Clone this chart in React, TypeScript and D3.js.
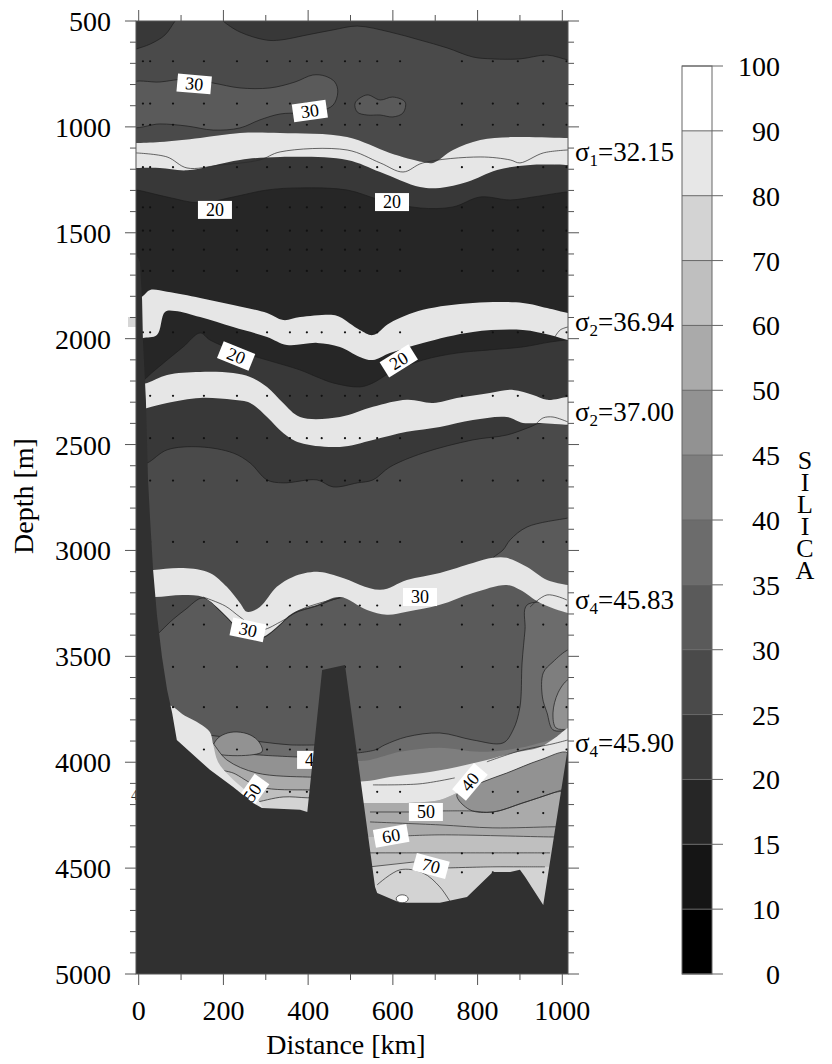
import React from 'react';
import * as d3 from 'd3';

type P = [number, number];

// ---------- axes / legend values ----------
const distanceTicks = [0, 200, 400, 600, 800, 1000];
const distanceMinor = [100, 300, 500, 700, 900];
const depthTicks = [500, 1000, 1500, 2000, 2500, 3000, 3500, 4000, 4500, 5000];
const depthMinor = d3.range(600, 5000, 100).filter((v) => v % 500 !== 0);
const silicaLevels = [0, 10, 15, 20, 25, 30, 35, 40, 45, 50, 60, 70, 80, 90, 100];
const silicaGreys = ['#000000', '#151515', '#262626', '#383838', '#4a4a4a', '#5a5a5a', '#6c6c6c', '#7e7e7e', '#929292', '#aaaaaa', '#bfbfbf', '#d3d3d3', '#e7e7e7', '#ffffff'];
const bandGrey = '#e6e6e6';
const bottomGrey = '#303030';
const legendTitle = 'SILICA';

// ---------- stations (km) and bottle depths (m) ----------
const stations = [10, 27, 81, 154, 232, 303, 357, 397, 432, 487, 522, 563, 617, 763, 836, 895, 955, 1010];
const bottleDepths = [690, 890, 990, 1190, 1380, 1490, 1580, 1680, 1970, 2270, 2470, 2670, 2960, 3260, 3350, 3550, 3740, 3940, 4140, 4240, 4430, 4520];

// ---------- contour boundaries [km, m] ----------
const topLeftDark: P[] = [[-20, 640], [-6, 632], [27, 609], [62, 566], [86, 500], [95, 480]];
const topRightDark: P[] = [[190, 480], [199, 500], [239, 552], [301, 590], [334, 590], [397, 566], [459, 542], [516, 524], [593, 552], [664, 590], [728, 627], [789, 670], [836, 679], [900, 679], [964, 661], [1013, 684], [1030, 690]];
const patch30: P[] = [[-20, 797], [50, 788], [114, 774], [176, 793], [239, 816], [310, 816], [369, 788], [411, 755], [440, 760], [463, 788], [470, 835], [459, 897], [428, 925], [381, 934], [334, 939], [286, 967], [239, 1005], [176, 1015], [114, 996], [50, 986], [-20, 996]];
const island30: P[] = [[511, 887], [539, 849], [570, 873], [600, 859], [629, 883], [624, 934], [600, 953], [570, 944], [539, 944], [516, 930]];
const c25Lower: P[] = [[-20, 2600], [-6, 2596], [20, 2587], [67, 2525], [145, 2511], [223, 2540], [263, 2587], [303, 2667], [341, 2681], [421, 2667], [459, 2700], [516, 2681], [553, 2667], [593, 2606], [671, 2540], [789, 2478], [869, 2455], [924, 2417], [948, 2398], [1013, 2407], [1030, 2407]];
const c20Top: P[] = [[-20, 1298], [-6, 1298], [67, 1331], [145, 1359], [223, 1331], [303, 1298], [381, 1288], [492, 1298], [570, 1345], [664, 1383], [742, 1378], [806, 1331], [877, 1345], [931, 1331], [1013, 1307], [1030, 1307]];
const c20Bottom: P[] = [[-20, 2240], [-6, 2233], [20, 2181], [67, 2101], [105, 2039], [145, 1973], [168, 2006], [223, 2053], [303, 2101], [381, 2148], [421, 2181], [459, 2209], [522, 2228], [553, 2209], [593, 2162], [671, 2101], [751, 2068], [829, 2053], [907, 2039], [971, 2016], [1013, 2006], [1030, 2006]];
const c30Deep: P[] = [[1030, 2840], [1013, 2847], [917, 2889], [877, 2950], [860, 2998], [836, 3035], [806, 3101], [711, 3196], [633, 3215], [553, 3220], [475, 3224], [421, 3262], [364, 3300], [326, 3366], [293, 3413], [263, 3413], [232, 3366], [192, 3286], [152, 3224], [109, 3281], [74, 3338], [50, 3385], [27, 3422], [-20, 3430]];
const c35Right: P[] = [[1030, 3257], [917, 3257], [912, 3375], [905, 3531], [900, 3739], [884, 3847], [860, 3909], [789, 3895], [711, 3862], [633, 3880], [581, 3918], [558, 3942], [500, 3960]];
const c40Right: P[] = [[1030, 3465], [1013, 3470], [978, 3526], [955, 3578], [953, 3692], [964, 3767], [978, 3847], [1013, 3850], [1030, 3850]];
const c45Right: P[] = [[1030, 3605], [1013, 3611], [990, 3672], [978, 3767], [985, 3838], [1013, 3845], [1030, 3845]];

// left abyssal basin
const lb35: P[] = [[120, 3871], [157, 3871], [216, 3885], [291, 3904], [357, 3918], [430, 3918]];
const lbDome: P[] = [[174, 3951], [183, 3895], [204, 3866], [232, 3857], [263, 3871], [284, 3904], [291, 3951]];
const lb45: P[] = [[120, 3942], [157, 3942], [286, 3966], [430, 3980]];
const lb50: P[] = [[150, 3880], [168, 3895], [208, 3989], [279, 4051], [398, 4070], [430, 4070]];
const lb60: P[] = [[200, 4040], [223, 4051], [286, 4117], [398, 4131], [430, 4131]];
const lb70: P[] = [[240, 4200], [270, 4192], [341, 4164], [398, 4168], [430, 4168]];
const lbBand: P[] = [[69, 3734], [109, 3781], [145, 3819], [168, 3857], [176, 3918], [187, 3998], [216, 4069], [251, 4131], [282, 4178], [291, 4235], [62, 4235]];

// right abyssal basin
const rb40: P[] = [[500, 3995], [546, 3989], [617, 3951], [711, 3932], [806, 3951], [900, 3932], [1013, 3871], [1030, 3865]];
const rbBandTop: P[] = [[500, 4095], [546, 4088], [593, 4070], [671, 4051], [751, 4022], [822, 3989], [884, 3956], [948, 3928], [983, 3885], [1013, 3838], [1030, 3830]];
const rbBandBottom: P[] = [[500, 4192], [546, 4192], [633, 4192], [711, 4178], [751, 4145], [806, 4098], [869, 4051], [948, 3989], [1013, 3956], [1030, 3950]];
const rb45Wedge: P[] = [[751, 4154], [806, 4098], [869, 4051], [948, 3989], [1013, 3956], [1013, 4121], [978, 4145], [907, 4192], [836, 4235], [782, 4225]];
const rb60: P[] = [[500, 4353], [546, 4353], [711, 4343], [978, 4353], [1030, 4353]];
const rb70: P[] = [[500, 4494], [546, 4494], [652, 4471], [730, 4499], [836, 4494], [900, 4494], [1030, 4494]];

// isopycnal bands
const s1Top: P[] = [[-20, 1076], [-6, 1076], [50, 1071], [145, 1052], [239, 1029], [334, 1029], [492, 1048], [593, 1123], [671, 1166], [695, 1170], [742, 1109], [806, 1062], [884, 1048], [1013, 1052], [1030, 1052]];
const s1Bottom: P[] = [[-20, 1194], [-6, 1194], [50, 1194], [114, 1205], [239, 1156], [334, 1142], [492, 1156], [570, 1213], [664, 1284], [711, 1288], [775, 1260], [846, 1203], [924, 1180], [1013, 1180], [1030, 1180]];
const s2aTop: P[] = [[-20, 1817], [-6, 1817], [10, 1798], [27, 1770], [67, 1779], [145, 1808], [223, 1841], [303, 1879], [341, 1912], [381, 1898], [459, 1888], [475, 1898], [522, 1959], [553, 1983], [593, 1926], [671, 1864], [789, 1831], [907, 1831], [964, 1855], [1013, 1879], [1030, 1885]];
const s2aBottom: P[] = [[-20, 2006], [-6, 2006], [10, 1997], [43, 1983], [62, 1874], [86, 1869], [145, 1898], [223, 1945], [303, 1992], [350, 2030], [421, 2020], [475, 2039], [522, 2086], [553, 2101], [593, 2068], [671, 2020], [789, 1968], [907, 1959], [971, 1983], [1013, 2006], [1030, 2010]];
const s2bTop: P[] = [[-20, 2219], [-6, 2219], [20, 2209], [67, 2171], [145, 2157], [223, 2162], [263, 2181], [303, 2228], [341, 2304], [381, 2370], [475, 2370], [553, 2322], [633, 2289], [695, 2304], [751, 2280], [829, 2256], [884, 2242], [931, 2266], [964, 2289], [1013, 2275], [1030, 2275]];
const s2bBottom: P[] = [[-20, 2337], [-6, 2337], [20, 2327], [67, 2304], [145, 2280], [223, 2289], [263, 2304], [303, 2370], [341, 2445], [381, 2492], [475, 2511], [553, 2478], [633, 2440], [711, 2417], [789, 2384], [869, 2370], [907, 2398], [948, 2398], [1013, 2407], [1030, 2407]];
const s4aTop: P[] = [[-20, 3101], [-6, 3101], [34, 3092], [105, 3083], [168, 3106], [208, 3172], [239, 3248], [256, 3290], [286, 3267], [326, 3172], [364, 3125], [421, 3101], [475, 3125], [570, 3186], [633, 3139], [711, 3106], [789, 3059], [836, 3035], [869, 3035], [917, 3078], [964, 3139], [1013, 3163], [1030, 3170]];
const s4aBottom: P[] = [[-20, 3220], [-6, 3220], [38, 3220], [105, 3210], [152, 3220], [192, 3281], [232, 3361], [263, 3408], [293, 3408], [326, 3361], [364, 3295], [421, 3257], [475, 3220], [539, 3281], [586, 3304], [633, 3290], [711, 3257], [789, 3201], [869, 3163], [900, 3186], [948, 3248], [1013, 3295], [1030, 3300]];

// thin contour / isopycnal lines
const sigma1Line: P[] = [[-6, 1123], [67, 1142], [114, 1194], [192, 1180], [286, 1156], [334, 1118], [492, 1109], [570, 1170], [624, 1213], [671, 1170], [806, 1142], [877, 1156], [900, 1170], [955, 1123], [1013, 1109]];
const sigma2aLine: P[] = [[978, 2006], [995, 1959], [1013, 1945]];
const sigma2bLine: P[] = [[940, 2398], [955, 2374], [978, 2370], [1013, 2393]];
const sigma4aLine: P[] = [[924, 3267], [964, 3210], [1011, 3234]];
const c30InBand: P[] = [[152, 3220], [204, 3262], [239, 3314], [286, 3375], [334, 3338], [381, 3281], [428, 3248], [475, 3224]];
const rb40LineA: P[] = [[553, 4107], [664, 4102], [746, 4074]];
const rb40LineB: P[] = [[822, 3998], [900, 3946], [978, 3913], [1013, 3895]];
const rb50LineA: P[] = [[546, 4235], [640, 4235]];
const rb50LineB: P[] = [[716, 4230], [782, 4230], [836, 4235], [907, 4192], [978, 4145], [1013, 4121]];
const rb55Line: P[] = [[546, 4282], [711, 4296], [836, 4310], [978, 4305], [1013, 4305]];
const rb60Line: P[] = [[629, 4348], [711, 4343], [978, 4353], [1013, 4353]];
const rb65Line: P[] = [[546, 4428], [711, 4428], [971, 4428]];
const rb70LineA: P[] = [[546, 4494], [650, 4471]];
const rb70LineB: P[] = [[730, 4499], [836, 4494], [900, 4494], [959, 4494]];
const rbBowl: P[] = [[563, 4579], [617, 4508], [671, 4523], [711, 4589], [740, 4674]];
const rbMax: P = [622, 4645];

// bathymetry
const bathymetry: P[] = [[-10, 1581], [3, 1638], [8, 1817], [10, 2006], [17, 2289], [22, 2667], [27, 2856], [34, 3092], [43, 3304], [55, 3503], [67, 3658], [79, 3767], [90, 3895], [168, 4036], [223, 4117], [270, 4192], [291, 4216], [381, 4225], [398, 4235], [433, 3564], [487, 3541], [558, 4589], [563, 4617], [617, 4664], [711, 4664], [775, 4636], [836, 4518], [877, 4518], [900, 4508], [912, 4541], [955, 4674], [1013, 3933], [1030, 3933], [1030, 5060], [-10, 5060]];

// contour labels: text, km, m, rotation
const labelText = ['30', '30', '20', '20', '20', '20', '30', '30', '40', '50', '60', '70', '50', '40'];
const labelKm = [131, 404, 180, 598, 230, 614, 258, 664, 782, 678, 596, 690, 268, 414];
const labelM = [797, 925, 1392, 1355, 2082, 2105, 3375, 3220, 4093, 4235, 4348, 4490, 4145, 3989];
const labelRot = [5, -8, 0, 0, 22, -32, 12, 0, -50, 0, -10, 15, -55, 0];

// isopycnal names
const sigmaSub = ['1', '2', '2', '4', '4'];
const sigmaVal = ['32.15', '36.94', '37.00', '45.83', '45.90'];
const sigmaDepth = [1161, 1964, 2389, 3276, 3951];

const FONT = "'Liberation Serif', 'Times New Roman', serif";

const x = d3.scaleLinear().domain([0, 1000]).range([138.7, 562.3]);
const y = d3.scaleLinear().domain([500, 5000]).range([21, 974]);
const X0 = x(-6.4);
const X1 = x(1013.5);
const Y0 = y(500);
const Y1 = y(5000);

const smooth = d3.line<P>().x((d) => x(d[0])).y((d) => y(d[1])).curve(d3.curveCatmullRom.alpha(0.5));
const closedSmooth = d3.line<P>().x((d) => x(d[0])).y((d) => y(d[1])).curve(d3.curveCatmullRomClosed.alpha(0.5));
const straight = d3.line<P>().x((d) => x(d[0])).y((d) => y(d[1]));

const region = (curve: P[], extra: P[]) =>
  (smooth(curve) as string) + extra.map((p) => `L${x(p[0])},${y(p[1])}`).join('') + 'Z';
const band = (top: P[], bottom: P[]) =>
  (smooth(top) as string) + 'L' + (smooth([...bottom].reverse()) as string).slice(1) + 'Z';
const DOWN = (a: number, b: number): P[] => [[b, 5100], [a, 5100]];

const G = silicaGreys;
const LINE = '#1c1c1c';

export default function App() {
  const fills: { d: string; fill: string; line?: string }[] = [
    { d: region(topLeftDark, [[-20, 480]]), fill: G[3], line: smooth(topLeftDark) as string },
    { d: region(topRightDark, [[1030, 480]]), fill: G[3], line: smooth(topRightDark) as string },
    { d: closedSmooth(patch30) as string, fill: G[5], line: closedSmooth(patch30) as string },
    { d: closedSmooth(island30) as string, fill: G[5], line: closedSmooth(island30) as string },
    { d: band(s1Top, c25Lower), fill: G[3], line: smooth(c25Lower) as string },
    { d: band(c20Top, c20Bottom), fill: G[2], line: (smooth(c20Top) as string) + (smooth(c20Bottom) as string) },
    { d: region(c30Deep, [[-20, 5100], [1030, 5100]]), fill: G[5], line: smooth(c30Deep) as string },
    { d: region(c35Right, [[500, 5100], [1030, 5100]]), fill: G[6], line: smooth(c35Right) as string },
    { d: region(c40Right, []), fill: G[7], line: smooth(c40Right) as string },
    { d: region(c45Right, []), fill: G[8], line: smooth(c45Right) as string },
    { d: region(lb35, DOWN(120, 430)), fill: G[6], line: smooth(lb35) as string },
    { d: region(lb45, DOWN(120, 430)), fill: G[8], line: smooth(lb45) as string },
    { d: closedSmooth(lbDome) as string, fill: G[8], line: closedSmooth(lbDome) as string },
    { d: region(lb50, DOWN(150, 430)), fill: G[9], line: smooth(lb50) as string },
    { d: region(lb60, DOWN(200, 430)), fill: G[10], line: smooth(lb60) as string },
    { d: region(lb70, DOWN(240, 430)), fill: G[11], line: smooth(lb70) as string },
    { d: region(rb40, DOWN(500, 1030)), fill: G[7] },
    { d: region(rbBandBottom, DOWN(500, 1030)), fill: G[9] },
    { d: region(rb60, DOWN(500, 1030)), fill: G[10] },
    { d: region(rb70, DOWN(500, 1030)), fill: G[11] },
  ];
  const bands: string[] = [
    band(s1Top, s1Bottom),
    band(s2aTop, s2aBottom),
    band(s2bTop, s2bBottom),
    band(s4aTop, s4aBottom),
    closedSmooth(lbBand) as string,
    band(rbBandTop, rbBandBottom),
  ];
  const thinLines: P[][] = [sigma1Line, sigma2aLine, sigma2bLine, sigma4aLine, c30InBand, rb40LineA, rb40LineB, rb50LineA, rb50LineB, rb55Line, rb60Line, rb65Line, rb70LineA, rb70LineB, rbBowl];

  const cb = d3.scaleLinear().domain([0, silicaLevels.length - 1]).range([974, 66]);
  const cbX0 = 682;
  const cbX1 = 712;

  return (
    <svg width={832} height={1064} style={{ position: 'absolute', left: 0, top: 0, background: '#fff' }} fontFamily={FONT}>
      <defs>
        <clipPath id="plot">
          <rect x={X0} y={Y0} width={X1 - X0} height={Y1 - Y0} />
        </clipPath>
      </defs>
      <g clipPath="url(#plot)">
        <rect x={X0} y={Y0} width={X1 - X0} height={Y1 - Y0} fill={G[4]} />
        {fills.map((f, i) => (
          <g key={i}>
            <path d={f.d} fill={f.fill} />
            {f.line && <path d={f.line} fill="none" stroke={LINE} strokeWidth={0.7} />}
          </g>
        ))}
        {bands.map((d, i) => (
          <path key={i} d={d} fill={bandGrey} />
        ))}
        <path d={closedSmooth(rb45Wedge) as string} fill={G[8]} stroke={LINE} strokeWidth={0.7} />
        {thinLines.map((l, i) => (
          <path key={i} d={smooth(l) as string} fill="none" stroke="#2a2a2a" strokeWidth={0.7} />
        ))}
        <ellipse cx={x(rbMax[0])} cy={y(rbMax[1])} rx={6} ry={4} fill="#fff" stroke={LINE} strokeWidth={0.7} />
        {stations.map((s) =>
          bottleDepths.map((m) => <circle key={s + '-' + m} cx={x(s)} cy={y(m)} r={1.1} fill="#111" />)
        )}
        {labelText.map((t, i) => (
          <g key={i} transform={`translate(${x(labelKm[i])},${y(labelM[i])}) rotate(${labelRot[i]})`}>
            <rect x={-17} y={-9} width={34} height={18} fill="#fff" />
            <text textAnchor="middle" y={6} fontSize={18} fill="#000">{t}</text>
          </g>
        ))}
        <path d={straight(bathymetry) + 'Z'} fill={bottomGrey} />
      </g>
      <rect x={128} y={317} width={8} height={10} fill="#d6d6d6" />
      <text x={131} y={800} fontSize={14} fill="#333">4</text>

      {/* frame */}
      <rect x={X0} y={Y0} width={X1 - X0} height={Y1 - Y0} fill="none" stroke="#555" strokeWidth={1} />
      {/* depth ticks left & right */}
      {depthTicks.map((m) => (
        <g key={'dt' + m}>
          <line x1={X0 - 11} x2={X0} y1={y(m)} y2={y(m)} stroke="#555" />
          <line x1={X1} x2={X1 + 11} y1={y(m)} y2={y(m)} stroke="#555" />
          <text x={111} y={y(m) + 10} fontSize={28} textAnchor="end">{m}</text>
        </g>
      ))}
      {depthMinor.map((m) => (
        <g key={'dm' + m}>
          <line x1={X0 - 6} x2={X0} y1={y(m)} y2={y(m)} stroke="#555" />
          <line x1={X1} x2={X1 + 6} y1={y(m)} y2={y(m)} stroke="#555" />
        </g>
      ))}
      {distanceTicks.map((k) => (
        <g key={'xt' + k}>
          <line x1={x(k)} x2={x(k)} y1={Y0 - 11} y2={Y0} stroke="#555" />
          <line x1={x(k)} x2={x(k)} y1={Y1} y2={Y1 + 11} stroke="#555" />
          <text x={x(k)} y={1020} fontSize={28} textAnchor="middle">{k}</text>
        </g>
      ))}
      {distanceMinor.map((k) => (
        <g key={'xm' + k}>
          <line x1={x(k)} x2={x(k)} y1={Y0 - 6} y2={Y0} stroke="#555" />
          <line x1={x(k)} x2={x(k)} y1={Y1} y2={Y1 + 6} stroke="#555" />
        </g>
      ))}
      <text x={346} y={1054} fontSize={28} textAnchor="middle">Distance [km]</text>
      <text transform="translate(33,496) rotate(-90)" fontSize={28} textAnchor="middle">Depth [m]</text>

      {/* isopycnal names */}
      {sigmaVal.map((v, i) => (
        <text key={'sg' + i} x={575} y={y(sigmaDepth[i])} fontSize={27}>
          σ<tspan fontSize={17} dy={5}>{sigmaSub[i]}</tspan>
          <tspan dy={-5}>={v}</tspan>
        </text>
      ))}

      {/* colour bar */}
      {silicaGreys.map((c, i) => (
        <rect key={'cb' + i} x={cbX0} y={cb(i + 1)} width={cbX1 - cbX0} height={cb(i) - cb(i + 1)} fill={c} />
      ))}
      <rect x={cbX0} y={cb(silicaLevels.length - 1)} width={cbX1 - cbX0} height={cb(0) - cb(silicaLevels.length - 1)} fill="none" stroke="#666" />
      {silicaLevels.map((v, i) => (
        <g key={'cl' + v}>
          <line x1={cbX0} x2={cbX1 + 11} y1={cb(i)} y2={cb(i)} stroke="#666" />
          <text x={780} y={cb(i) + 10} fontSize={28} textAnchor="end">{v}</text>
        </g>
      ))}
      <text
        x={805}
        y={446}
        fontSize={26}
        letterSpacing={-7}
        style={{ writingMode: 'vertical-rl', textOrientation: 'upright' } as React.CSSProperties}
      >
        {legendTitle}
      </text>
    </svg>
  );
}
